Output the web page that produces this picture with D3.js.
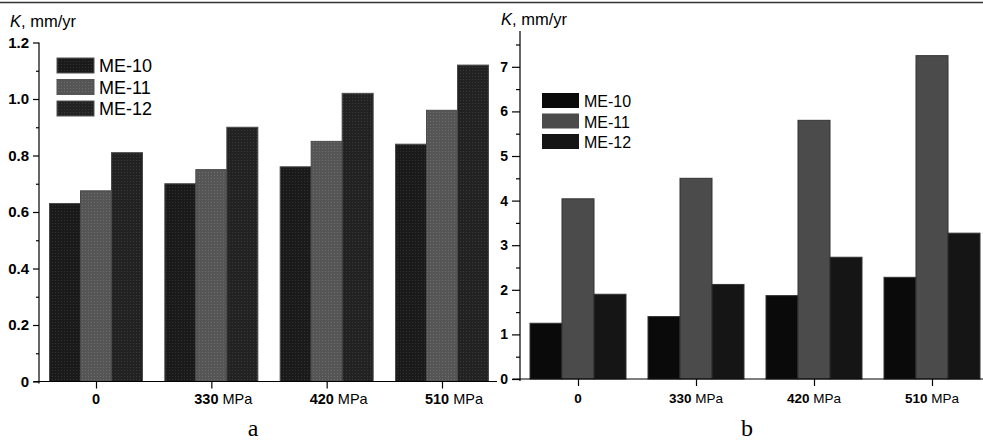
<!DOCTYPE html>
<html><head><meta charset="utf-8">
<script src="https://cdn.jsdelivr.net/npm/d3@7"></script>
<style>body{margin:0;background:#fff}svg{display:block;font-family:Arial,"Liberation Sans",sans-serif}</style>
</head><body><svg id="c" width="983" height="443"></svg>
<script>
const categories = ["0", "330", "420", "510"];
const series = ["ME-10", "ME-11", "ME-12"];
const valuesA = {"ME-10":[0.63,0.70,0.76,0.84],"ME-11":[0.675,0.75,0.85,0.96],"ME-12":[0.81,0.90,1.02,1.12]};
const valuesB = {"ME-10":[1.25,1.40,1.87,2.28],"ME-11":[4.04,4.50,5.80,7.25],"ME-12":[1.90,2.12,2.73,3.27]};
const ticksA = [0,0.2,0.4,0.6,0.8,1.0,1.2];
const minorA = [0.1,0.3,0.5,0.7,0.9,1.1];
const ticksB = [0,1,2,3,4,5,6,7];
const minorB = [0.5,1.5,2.5,3.5,4.5,5.5,6.5,7.5];
const tickLabelsA = ["0","0.2","0.4","0.6","0.8","1.0","1.2"];

const svg = d3.select("#c");
const defs = svg.append("defs");
function pat(id, base, dot){
  const p = defs.append("pattern").attr("id",id).attr("width",3).attr("height",3).attr("patternUnits","userSpaceOnUse");
  p.append("rect").attr("width",3).attr("height",3).attr("fill",base);
  p.append("rect").attr("x",1).attr("y",1).attr("width",1).attr("height",1).attr("fill",dot);
}
pat("pA0","#1a1a1a","#333");
pat("pA1","#555","#6e6e6e");
pat("pA2","#222","#3a3a3a");
const fillA = {"ME-10":"url(#pA0)","ME-11":"url(#pA1)","ME-12":"url(#pA2)"};
const fillB = {"ME-10":"#0a0a0a","ME-11":"#4b4b4b","ME-12":"#151515"};

// top rule
svg.append("line").attr("x1",0).attr("x2",983).attr("y1",2.5).attr("y2",2.5).attr("stroke","#333").attr("stroke-width",1.5);

function panel(o){
  const g = svg.append("g");
  const y = d3.scaleLinear().domain(o.ydom).range(o.yrange);
  const x = d3.scalePoint().domain(categories).range(o.xcenters);
  const xs = d3.scaleBand().domain(series).range([-o.gw/2, o.gw/2]);
  // bars
  series.forEach(s=>{
    g.append("g").selectAll("rect").data(o.vals[s]).join("rect")
      .attr("x",(d,i)=>x(categories[i])+xs(s))
      .attr("width",xs.bandwidth())
      .attr("y",d=>y(d))
      .attr("height",d=>y(0)-y(d))
      .attr("fill",o.fill[s]).attr("stroke",o.stroke).attr("stroke-width",1);
  });
  // y axis
  const ya = g.append("g").attr("transform",`translate(${o.ax},0)`)
    .call(d3.axisLeft(y).tickValues(o.ticks).tickSize(o.major).tickPadding(4)
      .tickFormat((d,i)=>o.tickLabels?o.tickLabels[i]:String(d)));
  ya.select(".domain").attr("d",`M0,${y(o.ydom[1])}V${y(0)+2}`);
  ya.selectAll("text").attr("font-size",o.yfs).attr("font-weight","bold").attr("fill","#000").attr("font-family","Arial,'Liberation Sans',sans-serif");
  ya.selectAll("line,path").attr("stroke","#000").attr("stroke-width",1.2);
  const ym = g.append("g").attr("transform",`translate(${o.ax},0)`)
    .call(d3.axisLeft(y).tickValues(o.minor).tickSize(o.major/2).tickFormat(""));
  ym.select(".domain").remove();
  ym.selectAll("line").attr("stroke","#000").attr("stroke-width",1.2);
  // x axis
  const xa = g.append("g").attr("transform",`translate(0,${y(0)})`)
    .call(d3.axisBottom(x).tickSize(7).tickFormat(""));
  xa.select(".domain").attr("d",`M${o.ax-o.major}.5,0H${o.xend}`);
  xa.selectAll("line,path").attr("stroke","#000").attr("stroke-width",1.2);
  categories.forEach((c,i)=>{
    const t = g.append("text").attr("x",x(c)+(i===0?0:o.labelDx)).attr("y",o.labelY)
      .attr("text-anchor","middle").attr("font-size",o.xfs).attr("fill","#000");
    t.append("tspan").attr("font-weight","bold").text(c);
    if(i>0) t.append("tspan").text(" MPa");
  });
  // y title
  const tt = g.append("text").attr("x",o.titleX).attr("y",o.titleY).attr("font-size",16.5).attr("fill","#000");
  tt.append("tspan").attr("font-style","italic").text("K");
  tt.append("tspan").text(", mm/yr");
  // legend
  const lg = g.append("g");
  series.forEach((s,i)=>{
    lg.append("rect").attr("x",o.lx).attr("y",o.ly+i*o.lstep).attr("width",37).attr("height",15)
      .attr("fill",o.fill[s]).attr("stroke",o.lstroke).attr("stroke-width",1);
    lg.append("text").attr("x",o.lx+42).attr("y",o.ly+i*o.lstep+14).attr("font-size",o.lfs).attr("fill","#000").text(s);
  });
  // panel letter
  g.append("text").attr("x",o.letterX).attr("y",436).attr("text-anchor","middle")
    .attr("font-family","'Liberation Serif','DejaVu Serif',serif").attr("font-size",24).attr("fill","#000").text(o.letter);
}

panel({ydom:[0,1.2], yrange:[381.5,42.5], xcenters:[96,442], gw:93, vals:valuesA, fill:fillA, stroke:"#4a4a4a",
  ax:39, major:6, ticks:ticksA, minor:minorA, tickLabels:tickLabelsA, yfs:15, xend:497, labelY:404, labelDx:12, xfs:14.5,
  titleX:10, titleY:27, lx:57, ly:58, lstep:21.5, lfs:18, lstroke:"#555", letter:"a", letterX:253});
panel({ydom:[0,7.8], yrange:[379,379-7.8*44.6], xcenters:[578,932], gw:96, vals:valuesB, fill:fillB, stroke:"#333",
  ax:520, major:8, ticks:ticksB, minor:minorB, tickLabels:null, yfs:14, xend:983, labelY:403, labelDx:0, xfs:13.5,
  titleX:501, titleY:25, lx:542, ly:93, lstep:20.5, lfs:16, lstroke:"none", letter:"b", letterX:747});
</script></body></html>
